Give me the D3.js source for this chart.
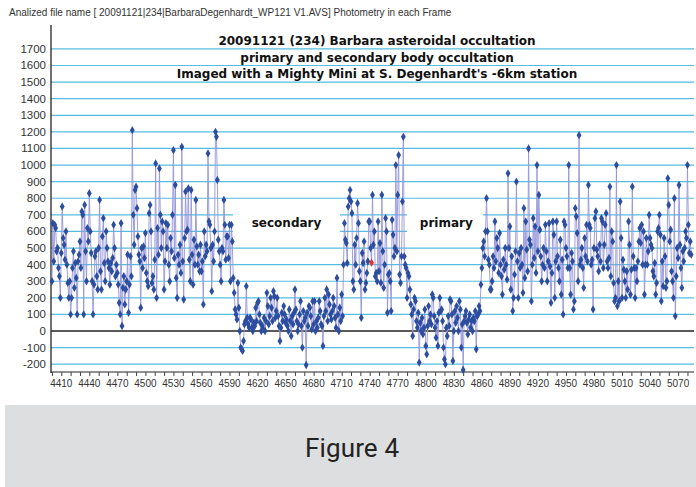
<!DOCTYPE html>
<html><head><meta charset="utf-8">
<script src="https://cdn.jsdelivr.net/npm/d3@7"></script>
<style>body{margin:0;background:#fff;overflow:hidden}</style>
</head><body><svg id="c" width="696" height="487"></svg>
<script>
// ---- data ----
const firstFrame = 4400;
const flux = [
300,650,420,640,620,480,500,380,330,200,
470,750,560,520,430,600,400,290,200,300,
100,200,380,480,260,410,320,100,420,460,
540,380,720,700,100,760,480,300,620,540,
830,600,470,300,100,280,450,480,330,250,
500,790,360,250,570,680,410,300,600,500,
420,380,280,410,360,440,640,500,330,400,
350,280,170,100,650,30,260,330,160,250,
300,460,110,280,450,330,1210,700,520,850,
870,740,570,460,420,140,500,380,510,440,
590,350,300,270,710,760,600,290,330,250,
430,1010,200,620,460,980,700,500,660,600,
250,420,650,500,640,400,300,560,480,700,
1090,440,880,320,200,460,400,520,350,1110,
420,190,560,840,600,610,860,430,300,850,
460,280,550,400,790,510,400,460,360,520,
360,420,160,600,450,520,480,1070,660,640,
500,240,520,420,600,1200,1170,910,550,480,
400,300,500,480,790,640,430,570,570,440,
640,300,640,540,320,230,130,100,70,290,
140,0,-100,-110,-120,-60,40,60,270,80,
40,20,80,70,20,0,50,30,140,60,
170,180,100,50,0,30,10,80,0,60,
230,150,40,90,200,140,60,240,210,80,
120,200,90,30,-60,20,110,60,150,100,
50,70,30,0,130,60,-30,90,40,110,
250,130,60,0,40,100,180,30,-100,120,
60,80,-205,110,30,150,140,90,10,180,
40,180,0,60,20,80,180,120,40,30,
-90,90,200,120,250,60,220,160,100,70,
120,200,150,80,20,320,100,0,140,60,
220,90,400,650,550,530,410,750,800,850,
780,710,300,250,520,400,560,770,650,360,
300,80,470,410,540,250,290,350,420,660,
660,500,412,820,520,600,330,350,300,660,
360,530,290,820,480,260,400,680,600,110,
340,350,300,120,670,580,450,500,1000,480,
820,1060,340,290,450,780,1170,450,400,380,
200,350,330,250,160,100,-30,130,200,180,
60,20,110,-190,50,0,80,-20,20,130,
-90,-140,30,150,60,100,40,220,200,90,
20,-40,60,-90,110,200,120,130,60,-100,
-170,-200,20,-30,90,30,190,180,100,-180,
0,120,50,150,80,0,180,130,-100,40,
-235,60,90,120,50,-20,70,100,20,60,
0,80,60,120,-110,90,100,150,120,280,
380,500,540,450,600,800,600,430,400,250,
250,300,450,380,660,420,560,500,350,590,
400,330,220,430,370,500,400,310,950,500,
630,250,450,120,200,340,480,900,420,200,
470,380,500,400,230,740,320,660,490,360,
1100,550,520,180,400,680,440,630,350,1000,
480,820,610,450,300,400,500,380,640,480,
300,420,650,390,170,350,660,580,200,420,
660,450,380,300,550,220,430,100,660,640,
500,450,380,1000,380,220,470,420,130,180,
740,690,590,300,1180,400,430,500,380,260,
560,450,640,420,880,640,620,400,430,130,
500,680,720,490,450,360,520,420,680,660,
380,520,640,710,420,380,440,870,330,600,
540,290,180,200,1000,150,300,180,780,560,
200,430,370,300,200,360,250,660,520,220,
370,870,450,380,200,380,300,420,540,620,
530,640,400,600,220,400,560,400,480,700,
560,520,500,360,330,410,220,290,600,620,
700,580,180,420,270,560,450,260,300,920,
760,540,610,360,300,200,800,90,330,500,
440,880,520,380,260,480,420,500,600,560,
1000,640,470,540,460
];
const highlightFrame = 4742;
const xTickValues = [4410,4440,4470,4500,4530,4560,4590,4620,4650,4680,4710,4740,4770,4800,4830,4860,4890,4920,4950,4980,5010,5040,5070];
const yTickValues = [-200,-100,0,100,200,300,400,500,600,700,800,900,1000,1100,1200,1300,1400,1500,1600,1700];
const headerText = "Analized file name [ 20091121|234|BarbaraDegenhardt_WP121 V1.AVS]   Photometry in each Frame";
const titleLines = ["20091121 (234) Barbara asteroidal occultation",
                    "primary and secondary body occultation",
                    "Imaged with a Mighty Mini at S. Degenhardt's -6km station"];
const regionNames = ["secondary","primary"];
const regionFrames = [4651, 4822];
const captionText = "Figure 4";

// ---- drawing ----
const svg = d3.select("#c");
const W = 696, H = 487;
svg.append("rect").attr("width",W).attr("height",H).attr("fill","#fff");

const x = d3.scaleLinear().domain([4399, 5087]).range([51, 694]);
const y = d3.scaleLinear().domain([-247, 1844]).range([372, 25]);
const pts = flux.map((v,i)=>({f:firstFrame+i, v}));

// header
svg.append("text").attr("x",9).attr("y",16).text(headerText)
  .attr("font-family","'Liberation Sans Narrow','Liberation Sans',Arial,sans-serif")
  .attr("font-size",10).attr("fill","#333");

// gridlines
svg.append("g").selectAll("line").data(yTickValues.filter(d=>d!==0)).join("line")
  .attr("x1",51).attr("x2",694).attr("y1",d=>y(d)).attr("y2",d=>y(d))
  .attr("stroke","#56bde0").attr("stroke-width",1.2);

// label boxes (white) over gridlines
const boxes = [[233,340],[407,483]];
svg.append("g").selectAll("rect").data(boxes).join("rect")
  .attr("x",d=>d[0]).attr("width",d=>d[1]-d[0])
  .attr("y",y(760)).attr("height",y(560)-y(760)).attr("fill","#fff");

// zero line
svg.append("line").attr("x1",51).attr("x2",694).attr("y1",y(0)).attr("y2",y(0))
  .attr("stroke","#222").attr("stroke-width",1.3);

// axes
const xAxis = d3.axisBottom(x).tickValues(d3.range(4400,5090,10)).tickSize(4).tickFormat("");
const gx = svg.append("g").attr("transform",`translate(0,${372})`).call(xAxis);
gx.select(".domain").attr("stroke","#222").attr("d","M51,0H694");
gx.selectAll(".tick line").attr("stroke","#444");
svg.append("g").selectAll("text").data(xTickValues).join("text")
  .attr("x",d=>x(d)).attr("y",387).attr("text-anchor","middle").text(d=>d)
  .attr("font-family","'Liberation Sans Narrow','Liberation Sans',Arial,sans-serif")
  .attr("font-size",10).attr("fill","#333");

svg.append("line").attr("x1",51).attr("x2",51).attr("y1",25).attr("y2",373)
  .attr("stroke","#222").attr("stroke-width",1.3);
svg.append("g").selectAll("text").data(yTickValues).join("text")
  .attr("x",46).attr("y",d=>y(d)+4).attr("text-anchor","end").text(d=>d)
  .attr("font-family","'Liberation Sans Narrow','Liberation Sans',Arial,sans-serif")
  .attr("font-size",11.5).attr("fill","#333");

// titles
svg.append("g").selectAll("text").data(titleLines).join("text")
  .attr("x",377).attr("y",(d,i)=>45+i*16.5).attr("text-anchor","middle").text(d=>d)
  .attr("font-family","'DejaVu Sans',sans-serif").attr("font-weight","bold")
  .attr("font-size",12).attr("fill","#111");

// region labels
svg.append("g").selectAll("text").data(regionNames).join("text")
  .attr("x",(d,i)=>x(regionFrames[i])).attr("y",y(625)).attr("text-anchor","middle").text(d=>d)
  .attr("font-family","'DejaVu Sans',sans-serif").attr("font-weight","bold")
  .attr("font-size",12).attr("fill","#111");

// series line
svg.append("path").datum(pts)
  .attr("d", d3.line().x(d=>x(d.f)).y(d=>y(d.v)))
  .attr("fill","none").attr("stroke","#9595da").attr("stroke-width",1).attr("opacity",0.9);

// markers
const sym = d3.symbol().type(d3.symbolDiamond).size(20);
svg.append("g").selectAll("path").data(pts).join("path")
  .attr("transform",d=>`translate(${x(d.f)},${y(d.v)})`)
  .attr("d",sym).attr("fill",d=>d.f===highlightFrame?"#e8322a":"#2d4d9f");

// caption box
svg.append("rect").attr("x",5).attr("y",405).attr("width",691).attr("height",82).attr("fill","#dddee0");
svg.append("text").attr("x",352).attr("y",457).attr("text-anchor","middle").text(captionText)
  .attr("font-family","'Liberation Sans Narrow','Roboto',sans-serif")
  .attr("font-size",26).attr("fill","#222")
  .attr("textLength",94).attr("lengthAdjust","spacing");
</script></body></html>
